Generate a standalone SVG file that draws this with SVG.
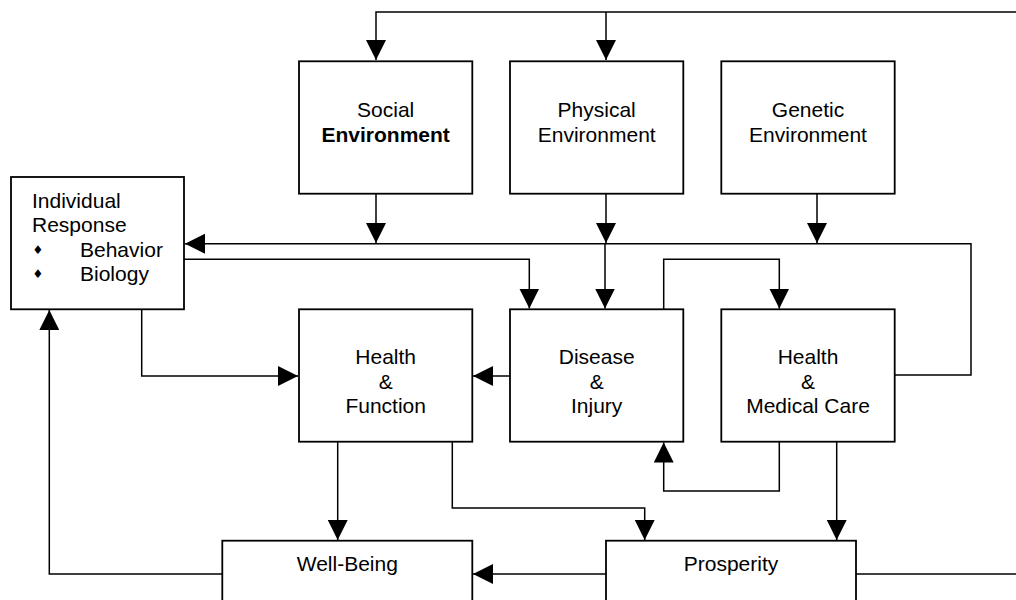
<svg xmlns="http://www.w3.org/2000/svg" width="1016" height="600" viewBox="0 0 1016 600">
<style>
.box{fill:#fff;stroke:#000;stroke-width:1.8}
.ln{fill:none;stroke:#000;stroke-width:1.5}
.t{font-family:"Liberation Sans",Arial,sans-serif;font-size:21px;fill:#000}
.c{text-anchor:middle}
.b{font-weight:bold}
.bul{font-family:"DejaVu Sans",sans-serif;font-size:12px;fill:#000}
</style>
<defs>
<marker id="ah" markerUnits="userSpaceOnUse" markerWidth="20" markerHeight="20" refX="20" refY="10" orient="auto">
<path d="M0,0 L20,10 L0,20 z" fill="#000"/>
</marker>
</defs>
<rect width="1016" height="600" fill="#fff"/>
<g id="connectors">
<path class="ln" d="M1016,12 H376 V60" marker-end="url(#ah)"/>
<path class="ln" d="M606,12 V60" marker-end="url(#ah)"/>
<path class="ln" d="M376,194 V243" marker-end="url(#ah)"/>
<path class="ln" d="M606,194 V243" marker-end="url(#ah)"/>
<path class="ln" d="M817,194 V243" marker-end="url(#ah)"/>
<path class="ln" d="M894.7,375 H971 V243.7 H185" marker-end="url(#ah)"/>
<path class="ln" d="M184,259.3 H529.3 V308.5" marker-end="url(#ah)"/>
<path class="ln" d="M605,243.7 V308.5" marker-end="url(#ah)"/>
<path class="ln" d="M663.7,309 V259.3 H779.3 V308.5" marker-end="url(#ah)"/>
<path class="ln" d="M141.7,309 V376 H298" marker-end="url(#ah)"/>
<path class="ln" d="M510,376 H473" marker-end="url(#ah)"/>
<path class="ln" d="M779.3,441.7 V491 H663.7 V442.5" marker-end="url(#ah)"/>
<path class="ln" d="M836.7,441.7 V540" marker-end="url(#ah)"/>
<path class="ln" d="M337.7,441.7 V540" marker-end="url(#ah)"/>
<path class="ln" d="M452.3,441.7 V508 H644.7 V540" marker-end="url(#ah)"/>
<path class="ln" d="M606,574 H473" marker-end="url(#ah)"/>
<path class="ln" d="M856,574 H1016"/>
<path class="ln" d="M222.3,574 H49.3 V310" marker-end="url(#ah)"/>
</g>
<g id="social">
<rect class="box" x="299" y="61.3" width="173.3" height="132.4"/>
<text class="t c" x="385.7" y="116.7">Social</text>
<text class="t c b" x="385.7" y="141.7">Environment</text>
</g>
<g id="physical">
<rect class="box" x="510" y="61.3" width="173.3" height="132.4"/>
<text class="t c" x="596.7" y="116.7">Physical</text>
<text class="t c" x="596.7" y="141.7">Environment</text>
</g>
<g id="genetic">
<rect class="box" x="721.3" y="61.3" width="173.4" height="132.4"/>
<text class="t c" x="808" y="116.7">Genetic</text>
<text class="t c" x="808" y="141.7">Environment</text>
</g>
<g id="individual">
<rect class="box" x="11" y="177" width="173" height="132.3"/>
<text class="t" x="32" y="208.3">Individual</text>
<text class="t" x="32" y="232.3">Response</text>
<text class="bul" x="32.5" y="253.5">♦</text>
<text class="t" x="80" y="256.7">Behavior</text>
<text class="bul" x="32.5" y="277.5">♦</text>
<text class="t" x="80" y="281">Biology</text>
</g>
<g id="health-function">
<rect class="box" x="299" y="309.3" width="173.3" height="132.4"/>
<text class="t c" x="385.7" y="364.3">Health</text>
<text class="t c" x="385.7" y="389">&amp;</text>
<text class="t c" x="385.7" y="413.3">Function</text>
</g>
<g id="disease-injury">
<rect class="box" x="510" y="309.3" width="173.3" height="132.4"/>
<text class="t c" x="596.7" y="364.3">Disease</text>
<text class="t c" x="596.7" y="389">&amp;</text>
<text class="t c" x="596.7" y="413.3">Injury</text>
</g>
<g id="medical-care">
<rect class="box" x="721.3" y="309.3" width="173.4" height="132.4"/>
<text class="t c" x="808" y="364.3">Health</text>
<text class="t c" x="808" y="389">&amp;</text>
<text class="t c" x="808" y="413.3">Medical Care</text>
</g>
<g id="well-being">
<rect class="box" x="222.3" y="540.7" width="250" height="80"/>
<text class="t c" x="347.3" y="570.7">Well-Being</text>
</g>
<g id="prosperity">
<rect class="box" x="606" y="540.7" width="250" height="80"/>
<text class="t c" x="731" y="570.7">Prosperity</text>
</g>
</svg>
